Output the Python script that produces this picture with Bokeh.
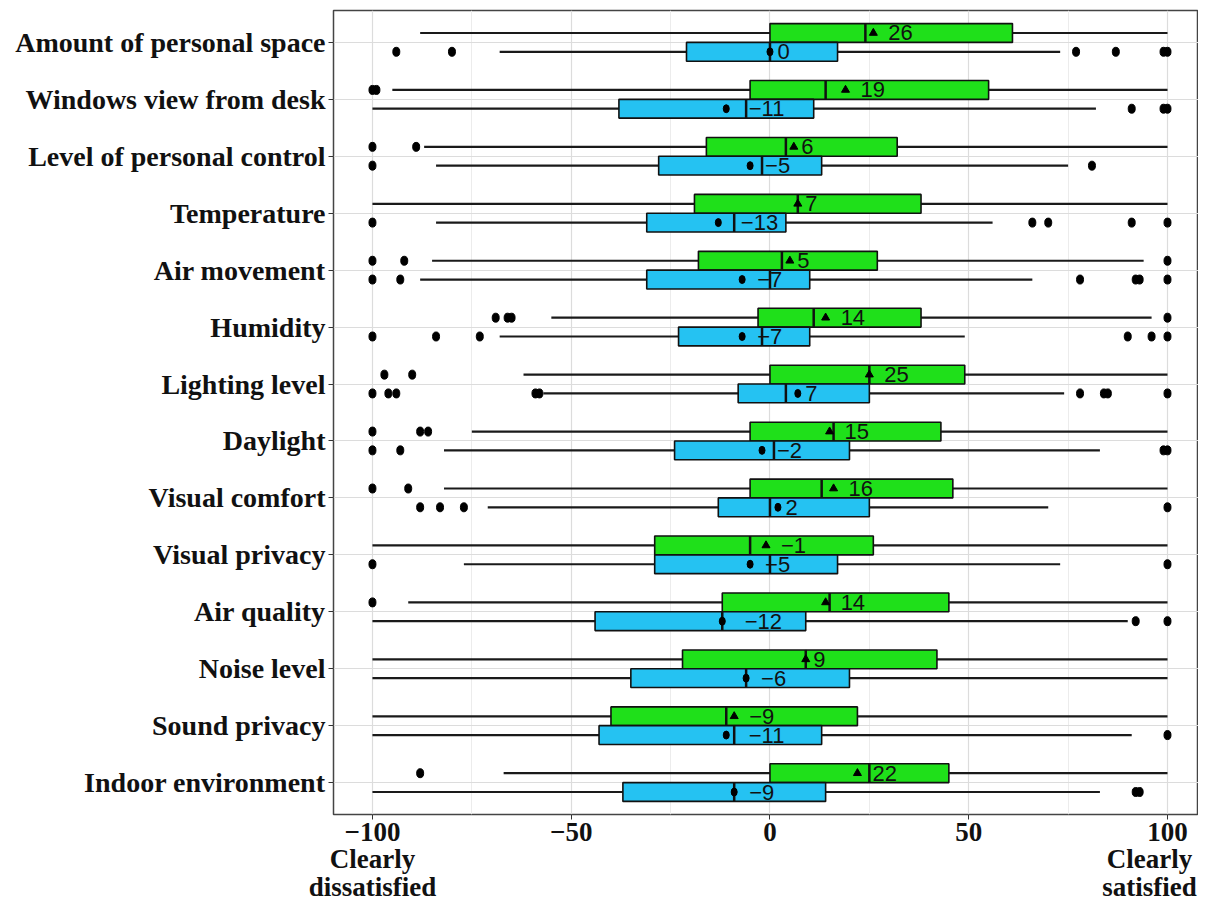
from bokeh.plotting import figure
from bokeh.models import Range1d, FixedTicker, ColumnDataSource, LinearAxis
from bokeh.embed import file_html
from bokeh.resources import INLINE
from bokeh.core.properties import value

categories = ["Amount of personal space", "Windows view from desk", "Level of personal control",
              "Temperature", "Air movement", "Humidity", "Lighting level", "Daylight",
              "Visual comfort", "Visual privacy", "Air quality", "Noise level", "Sound privacy",
              "Indoor environment"]

# green series (upper box in each row)
g_low = [-88, -95, -87, -100, -85, -55, -62, -75, -82, -100, -91, -100, -100, -67]
g_q1 = [0, -5, -16, -19, -18, -3, 0, -5, -5, -29, -12, -22, -40, 0]
g_med = [24, 14, 4, 7, 3, 11, 25, 16, 13, -5, 15, 9, -11, 25]
g_q3 = [61, 55, 32, 38, 27, 38, 49, 43, 46, 26, 45, 42, 22, 45]
g_high = [100, 100, 100, 100, 94, 96, 100, 100, 100, 100, 100, 100, 100, 100]
g_mean = [26, 19, 6, 7, 5, 14, 25, 15, 16, -1, 14, 9, -9, 22]
g_out = [[], [-100, -99], [-100, -89], [], [-100, -92, 100], [-69, -66, -65, 100],
         [-97, -90], [-100, -88, -86], [-100, -91], [], [-100], [], [], [-88]]

# blue series (lower box in each row)
b_low = [-68, -100, -84, -84, -88, -68, -57, -82, -71, -77, -100, -100, -100, -100]
b_q1 = [-21, -38, -28, -31, -31, -23, -8, -24, -13, -29, -44, -35, -43, -37]
b_med = [0, -6, -2, -9, 0, -2, 4, 1, 0, 0, -12, -6, -9, -9]
b_q3 = [17, 11, 13, 4, 10, 10, 25, 20, 25, 17, 9, 20, 13, 14]
b_high = [73, 82, 75, 56, 66, 49, 74, 83, 70, 73, 90, 100, 91, 83]
b_mean = [0, -11, -5, -13, -7, -7, 7, -2, 2, -5, -12, -6, -11, -9]
b_out = [[-94, -80, 77, 87, 99, 100], [91, 99, 100], [-100, 81], [-100, 66, 70, 91, 100],
         [-100, -93, 78, 92, 93, 100], [-100, -84, -73, 90, 96, 100],
         [-100, -96, -94, -59, -58, 78, 84, 85, 100], [-100, -93, 99, 100],
         [-88, -83, -77, 100], [-100, 100], [92, 100], [], [100], [92, 93]]

x_ticks = [-100, -50, 0, 50, 100]
x_minor = [-75, -25, 25, 75]
end_labels = [(-100, "Clearly\ndissatisfied"), (100, "Clearly\nsatisfied")]

GREEN = "#1FE01A"
BLUE = "#25C2F2"

n = len(categories)
rows = list(range(1, n + 1))
off = 0.165
bh = 0.33


def fmt(v):
    return ("\u2212" + str(abs(v))) if v < 0 else str(v)


p = figure(width=1198, height=905, output_backend="svg", toolbar_location=None,
           x_range=Range1d(-109.8, 107.8), y_range=Range1d(14.56, 0.44),
           min_border_left=333, min_border_right=0, min_border_top=10, min_border_bottom=85,
           background_fill_color="white", border_fill_color="white")
p.outline_line_color = "#444444"
p.outline_line_width = 1.5


def draw(low, q1, med, q3, high, mean, outs, dy, color, marker):
    ys = [r + dy for r in rows]
    src = ColumnDataSource(dict(y=ys, low=low, q1=q1, med=med, q3=q3, high=high, mean=mean,
                                y0=[y - bh / 2 for y in ys], y1=[y + bh / 2 for y in ys],
                                lab=[fmt(m) for m in mean],
                                xo=[7.5 * len(fmt(m)) for m in mean]))
    p.segment(x0="low", x1="high", y0="y", y1="y", source=src, line_color="#1a1a1a", line_width=2.2)
    p.hbar(y="y", left="q1", right="q3", height=bh, source=src, fill_color=color,
           line_color="#111111", line_width=1.6)
    p.segment(x0="med", x1="med", y0="y0", y1="y1", source=src, line_color="#111111", line_width=2.5)
    ox, oy = [], []
    for r, lst in zip(ys, outs):
        for v in lst:
            ox.append(v)
            oy.append(r)
    p.ellipse(x=ox, y=oy, width=7, height=9, width_units="screen", height_units="screen",
              fill_color="black", line_color="black")
    if marker == "triangle":
        p.scatter(x="mean", y="y", source=src, marker="triangle", size=8, fill_color="black",
                  line_color="black")
    else:
        p.ellipse(x="mean", y="y", width=6, height=8, width_units="screen", height_units="screen",
                  source=src, fill_color="black", line_color="black")
    p.text(x="mean", y="y", text="lab", x_offset="xo", source=src, text_align="left",
           text_baseline="middle", text_font=value("Liberation Sans"), text_font_size="22px",
           text_color="#111111")


draw(g_low, g_q1, g_med, g_q3, g_high, g_mean, g_out, -off, GREEN, "triangle")
draw(b_low, b_q1, b_med, b_q3, b_high, b_mean, b_out, off, BLUE, "circle")

# axes
p.yaxis.ticker = FixedTicker(ticks=rows)
p.yaxis.major_label_overrides = {r: c for r, c in zip(rows, categories)}
p.yaxis.major_label_text_font = "Liberation Serif"
p.yaxis.major_label_text_font_style = "bold"
p.yaxis.major_label_text_font_size = "28px"
p.yaxis.major_label_text_color = "#111111"
p.yaxis.axis_line_color = None
p.yaxis.major_tick_out = 5
p.yaxis.major_tick_in = 0
p.yaxis.major_tick_line_color = "#333333"
p.yaxis.minor_tick_line_color = None
p.yaxis.major_label_standoff = 3

p.xaxis.ticker = FixedTicker(ticks=x_ticks, minor_ticks=x_minor)
p.xaxis.major_label_overrides = {t: fmt(t) for t in x_ticks}
p.xaxis.major_label_text_font = "Liberation Serif"
p.xaxis.major_label_text_font_style = "bold"
p.xaxis.major_label_text_font_size = "27px"
p.xaxis.major_label_text_color = "#111111"
p.xaxis.major_label_text_line_height = 0.95
p.xaxis.axis_line_color = None
p.xaxis.major_tick_out = 5
p.xaxis.major_tick_in = 0
p.xaxis.major_tick_line_color = "#333333"
p.xaxis.minor_tick_line_color = None
p.xaxis.major_label_standoff = 3

# second row of x labels: the scale's end descriptions
nudge = [0, -4.5]  # keep the right-hand text inside the canvas
end_pos = [xv + d for (xv, _), d in zip(end_labels, nudge)]
ax2 = LinearAxis(ticker=FixedTicker(ticks=end_pos),
                 major_label_overrides={pos: t for pos, (_, t) in zip(end_pos, end_labels)})
ax2.major_label_text_font = "Liberation Serif"
ax2.major_label_text_font_style = "bold"
ax2.major_label_text_font_size = "27px"
ax2.major_label_text_color = "#111111"
ax2.major_label_text_line_height = 0.95
ax2.axis_line_color = None
ax2.major_tick_line_color = None
ax2.minor_tick_line_color = None
ax2.major_tick_out = 0
ax2.major_tick_in = 0
ax2.major_label_standoff = 0
p.add_layout(ax2, "below")

p.xgrid.grid_line_color = "#dcdcdc"
p.xgrid.grid_line_width = 1.2
p.xgrid.minor_grid_line_color = "#ececec"
p.xgrid.minor_grid_line_width = 1
p.ygrid.grid_line_color = "#dcdcdc"
p.ygrid.grid_line_width = 1.2

open("out.html", "w").write(file_html(p, INLINE))
